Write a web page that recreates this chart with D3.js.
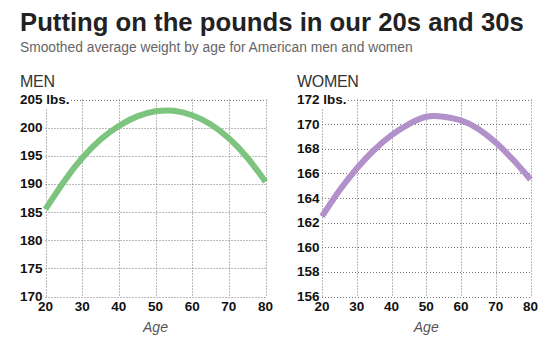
<!DOCTYPE html>
<html><head><meta charset="utf-8">
<script src="https://cdn.jsdelivr.net/npm/d3@7"></script>
<style>
body{margin:0;background:#fff;}
svg{display:block;}
</style></head>
<body>
<svg id="c" width="549" height="350"></svg>
<script>
const ages = [20,25,30,35,40,45,50,55,60,65,70,75,80];
const menWeight = [185.5,190.4,194.6,197.9,200.3,202.0,202.9,203.0,202.2,200.6,198.1,194.7,190.4];
const womenWeight = [162.5,164.6,166.4,167.9,169.1,170.0,170.6,170.6,170.3,169.6,168.5,167.1,165.5];
const ageTicks = [20,30,40,50,60,70,80];
const menTicks = [170,175,180,185,190,195,200,205];
const womenTicks = [156,158,160,162,164,166,168,170,172];

const svg = d3.select("#c");
const font = "'Liberation Sans', Arial, sans-serif";

svg.append("text").attr("x",20).attr("y",31)
  .attr("font-family",font).attr("font-weight","bold").attr("font-size",25.7)
  .attr("fill","#222").text("Putting on the pounds in our 20s and 30s");
svg.append("text").attr("x",20).attr("y",52)
  .attr("font-family",font).attr("font-size",13.8)
  .attr("fill","#666").text("Smoothed average weight by age for American men and women");

function panel(opts){
  const x = d3.scaleLinear().domain([20,80]).range([opts.x0, opts.x1]);
  const y = d3.scaleLinear().domain(opts.domain).range([296.5, 99.5]);
  const g = svg.append("g");
  g.append("text").attr("x",opts.labelX).attr("y",87)
    .attr("font-family",font).attr("font-size",16).attr("fill","#333")
    .attr("letter-spacing",-0.3).text(opts.title);
  const top = opts.domain[1];
  g.selectAll(".h").data(opts.ticks).enter().append("line")
    .attr("x1", d => d===top ? opts.labelX+51 : x(20))
    .attr("x2", x(80)+1)
    .attr("y1", d => Math.round(y(d))+0.5).attr("y2", d => Math.round(y(d))+0.5)
    .attr("stroke","#777").attr("stroke-width",1).attr("stroke-dasharray","1,2");
  g.selectAll(".v").data(ageTicks).enter().append("line")
    .attr("x1", d => Math.round(x(d))+0.5).attr("x2", d => Math.round(x(d))+0.5)
    .attr("y1", d => d===20 ? y(top)+10 : y(top)).attr("y2", y(opts.domain[0]))
    .attr("stroke","#777").attr("stroke-width",1).attr("stroke-dasharray","1,2");
  g.selectAll(".yl").data(opts.ticks).enter().append("text")
    .attr("x", opts.labelX).attr("y", d => y(d)+4.5)
    .attr("font-family",font).attr("font-weight","bold").attr("font-size",13.5)
    .attr("fill","#111").text(d => d===top ? d+" lbs." : d);
  g.selectAll(".xl").data(ageTicks).enter().append("text")
    .attr("x", d => x(d)).attr("y", 311).attr("text-anchor","middle")
    .attr("font-family",font).attr("font-weight","bold").attr("font-size",13.5)
    .attr("fill","#111").text(d => d);
  g.append("text").attr("x", x(50)).attr("y", 332).attr("text-anchor","middle")
    .attr("font-family",font).attr("font-style","italic").attr("font-size",14)
    .attr("fill","#555").text("Age");
  const line = d3.line().x((d,i)=>x(ages[i])).y(d=>y(d)).curve(d3.curveNatural);
  g.append("path").datum(opts.values).attr("d",line)
    .attr("fill","none").attr("stroke",opts.color).attr("stroke-width",6)
    .attr("stroke-linecap","butt");
}

panel({x0:45.5, x1:265.5, labelX:20, domain:[170,205], ticks:menTicks, values:menWeight, color:"#7dc47e", title:"MEN"});
panel({x0:322, x1:530.5, labelX:297, domain:[156,172], ticks:womenTicks, values:womenWeight, color:"#b290ca", title:"WOMEN"});
</script>
</body></html>
